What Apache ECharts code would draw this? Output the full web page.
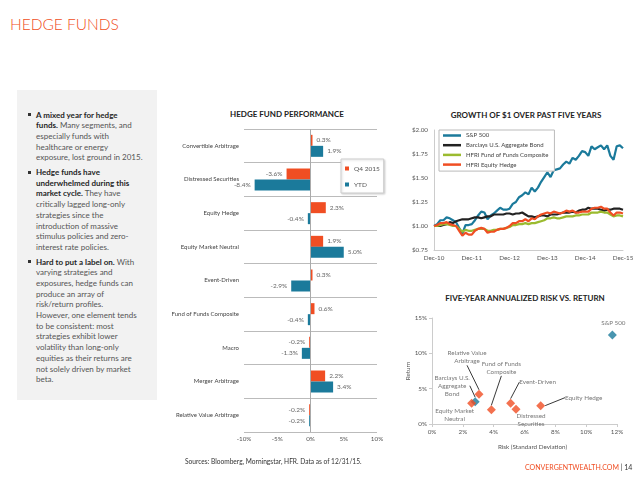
<!DOCTYPE html>
<html><head><meta charset="utf-8">
<script src="https://cdn.jsdelivr.net/npm/echarts@6/dist/echarts.min.js"></script>
<style>
html,body{margin:0;padding:0;background:#fff;width:640px;height:480px;overflow:hidden;font-family:Lato,'Open Sans',sans-serif;}
.abs{position:absolute;white-space:nowrap;}
#chart{position:absolute;left:0;top:0;width:640px;height:480px;}
#slideTitle{left:10px;top:15px;font-size:15.5px;font-weight:300;color:#F04E23;}
#panel{left:17px;top:90px;width:140px;height:310px;background:#F2F2F2;}
.bul{position:absolute;left:36px;font-size:8px;line-height:10.7px;color:#555;white-space:nowrap;}
.bul b{color:#262626;font-weight:700;}
.bul:before{content:"";position:absolute;left:-8px;top:3.8px;width:3px;height:3px;background:#333;}
.ctitle{position:absolute;width:220px;text-align:center;font-size:8px;font-weight:700;color:#222;white-space:nowrap;}
#src{left:185px;top:457px;font-size:6.6px;color:#333;}
#site{left:525px;top:463px;font-size:7px;color:#F04E23;}
#site span{color:#333;}
</style></head>
<body>
<div id="panel" class="abs"></div>
<div id="slideTitle" class="abs">HEDGE FUNDS</div>
<div class="bul" style="top:109.5px"><b>A mixed year for hedge<br>funds.</b> Many segments, and<br>especially funds with<br>healthcare or energy<br>exposure, lost ground in 2015.</div>
<div class="bul" style="top:167px"><b>Hedge funds have<br>underwhelmed during this<br>market cycle.</b> They have<br>critically lagged long-only<br>strategies since the<br>introduction of massive<br>stimulus policies and zero-<br>interest rate policies.</div>
<div class="bul" style="top:256.5px"><b>Hard to put a label on.</b> With<br>varying strategies and<br>exposures, hedge funds can<br>produce an array of<br>risk/return profiles.<br>However, one element tends<br>to be consistent: most<br>strategies exhibit lower<br>volatility than long-only<br>equities as their returns are<br>not solely driven by market<br>beta.</div>
<div class="ctitle" style="left:177px;top:109px">HEDGE FUND PERFORMANCE</div>
<div class="ctitle" style="left:416px;top:110px">GROWTH OF $1 OVER PAST FIVE YEARS</div>
<div class="ctitle" style="left:415px;top:293px">FIVE-YEAR ANNUALIZED RISK VS. RETURN</div>
<div id="chart"></div>
<div id="src" class="abs">Sources: Bloomberg, Morningstar, HFR. Data as of 12/31/15.</div>
<div id="site" class="abs">CONVERGENTWEALTH.COM <span>| 14</span></div>
<script>
// ---------- Bar chart data ----------
const barCategories = ['Convertible Arbitrage','Distressed Securities','Equity Hedge','Equity Market Neutral','Event-Driven','Fund of Funds Composite','Macro','Merger Arbitrage','Relative Value Arbitrage'];
const q4Values  = [0.3, -3.6, 2.3, 1.9, 0.3, 0.6, -0.2, 2.2, -0.2];
const ytdValues = [1.9, -8.4, -0.4, 5.0, -2.9, -0.4, -1.3, 3.4, -0.2];

// ---------- Growth of $1 data (monthly, Dec-10 .. Dec-15) ----------
const monthNames = ['Jan','Feb','Mar','Apr','May','Jun','Jul','Aug','Sep','Oct','Nov','Dec'];
const monthLabels = ['Dec-10'];
for (let y = 11; y <= 15; y++) for (let m = 0; m < 12; m++) monthLabels.push(monthNames[m] + '-' + y);
const sp500 = [1.00,
 1.02,1.06,1.06,1.09,1.08,1.06,1.04,0.98,0.92,1.01,1.01,1.02,
 1.06,1.11,1.15,1.14,1.07,1.11,1.13,1.16,1.19,1.17,1.17,1.18,
 1.23,1.25,1.30,1.32,1.35,1.33,1.40,1.36,1.40,1.46,1.51,1.56,
 1.51,1.58,1.59,1.60,1.64,1.67,1.65,1.71,1.69,1.73,1.78,1.77,
 1.73,1.83,1.80,1.82,1.84,1.80,1.84,1.73,1.69,1.83,1.84,1.81];
const aggBond = [1.00,
 1.00,1.00,1.01,1.02,1.04,1.03,1.05,1.06,1.07,1.07,1.07,1.08,
 1.09,1.09,1.08,1.09,1.10,1.10,1.12,1.12,1.12,1.12,1.13,1.13,
 1.12,1.13,1.13,1.14,1.12,1.10,1.10,1.09,1.10,1.11,1.11,1.10,
 1.12,1.12,1.12,1.13,1.14,1.14,1.14,1.15,1.14,1.16,1.17,1.17,
 1.19,1.18,1.18,1.18,1.17,1.16,1.17,1.17,1.18,1.18,1.18,1.17];
const fofComposite = [1.00,
 1.00,1.01,1.02,1.02,1.01,1.00,1.00,0.97,0.94,0.96,0.95,0.95,
 0.96,0.97,0.97,0.97,0.95,0.95,0.96,0.96,0.97,0.97,0.98,0.99,
 1.01,1.01,1.02,1.02,1.03,1.02,1.03,1.03,1.04,1.05,1.06,1.08,
 1.08,1.09,1.08,1.08,1.09,1.10,1.10,1.10,1.11,1.11,1.12,1.12,
 1.12,1.14,1.14,1.14,1.15,1.14,1.14,1.12,1.10,1.11,1.11,1.10];
const equityHedge = [1.00,
 1.01,1.03,1.03,1.04,1.02,1.01,1.00,0.95,0.90,0.93,0.91,0.91,
 0.95,0.97,0.98,0.97,0.93,0.94,0.94,0.96,0.97,0.97,0.98,1.00,
 1.03,1.03,1.05,1.05,1.07,1.05,1.08,1.07,1.10,1.12,1.13,1.14,
 1.13,1.15,1.14,1.13,1.14,1.16,1.15,1.16,1.14,1.14,1.15,1.15,
 1.15,1.18,1.19,1.19,1.20,1.18,1.18,1.14,1.11,1.14,1.14,1.13];
const lineNames = ['S&P 500','Barclays U.S. Aggregate Bond','HFRI Fund of Funds Composite','HFRI Equity Hedge'];

// ---------- Risk vs return data ----------
const riskNames  = ['S&P 500','Barclays U.S. Aggregate Bond','Relative Value Arbitrage','Fund of Funds Composite','Event-Driven','Equity Hedge','Equity Market Neutral','Distressed Securities'];
const riskLabels = ['S&P 500','Barclays U.S.\nAggregate\nBond','Relative Value\nArbitrage','Fund of Funds\nComposite','Event-Driven','Equity Hedge','Equity Market\nNeutral','Distressed\nSecurities'];
const riskValues   = [11.7, 2.8, 3.05, 3.85, 5.1, 7.05, 2.57, 5.45];
const returnValues = [12.6, 3.15, 4.2, 2.0, 2.95, 2.6, 2.93, 2.1];
const isBenchmark  = [true, true, false, false, false, false, false, false];

// ---------- styling (kept apart from data) ----------
const ORANGE = '#F04E23', TEAL = '#1B7A9B', GREEN = '#9BBB2F', BLACK = '#222222';
const labelDx = [1, -23, -12, 10, 27, 43, -17, 15];
const labelDy = [-12, -16, -37, -42, -21, -8, 12, 11];
const labelHasLine = [false, true, true, true, true, true, false, false];

const axisTxt = {fontSize: 6.3, color: '#555', fontFamily: 'Lato'};

const chart = echarts.init(document.getElementById('chart'), null, {renderer: 'canvas'});
const option = {
  animation: false,
  backgroundColor: 'transparent',
  textStyle: {fontFamily: 'Lato'},
  grid: [
    {left: 244, top: 129, width: 133, height: 303},
    {left: 434, top: 130, width: 189, height: 120},
    {left: 432, top: 318, width: 185, height: 106}
  ],
  legend: [
    {data: ['Q4 2015', 'YTD'], orient: 'vertical', left: 341, top: 159,
     itemWidth: 4, itemHeight: 4, itemGap: 9, padding: [6, 4, 5, 4], icon: 'rect',
     borderColor: '#ccc', borderWidth: 1, backgroundColor: '#fff',
     shadowBlur: 2, shadowColor: 'rgba(0,0,0,0.15)', shadowOffsetX: 1, shadowOffsetY: 1,
     textStyle: {fontSize: 6.5, color: '#555'}, selectedMode: false},
    {data: lineNames, orient: 'vertical', left: 439, top: 130, icon: 'rect',
     itemWidth: 18, itemHeight: 2.5, itemGap: 2.7, padding: [2, 6, 3, 4],
     borderColor: '#bbb', borderWidth: 1, backgroundColor: '#fff',
     textStyle: {fontSize: 6, color: '#444', lineHeight: 7}, selectedMode: false}
  ],
  xAxis: [
    {gridIndex: 0, type: 'value', min: -10, max: 10, interval: 5,
     axisLabel: Object.assign({formatter: '{value}%', margin: 4}, axisTxt),
     axisLine: {show: false}, axisTick: {show: false}, splitLine: {show: false}},
    {gridIndex: 1, type: 'category', data: monthLabels, boundaryGap: false,
     axisLine: {show: true, lineStyle: {color: '#ccc'}}, axisTick: {show: false},
     axisLabel: Object.assign({interval: 11, margin: 5}, axisTxt), splitLine: {show: false}},
    {gridIndex: 2, type: 'value', min: 0, max: 12, interval: 2,
     axisLabel: Object.assign({formatter: '{value}%', margin: 5}, axisTxt),
     axisLine: {show: true, lineStyle: {color: '#ccc'}},
     axisTick: {show: true, length: 3, lineStyle: {color: '#ccc'}}, splitLine: {show: false},
     name: 'Risk (Standard Deviation)', nameLocation: 'middle', nameGap: 20,
     nameTextStyle: {fontSize: 6.3, color: '#555', padding: [0, 0, 0, 16]}}
  ],
  yAxis: [
    {gridIndex: 0, type: 'category', data: barCategories, inverse: true,
     axisLine: {show: false}, axisTick: {show: false},
     axisLabel: {fontSize: 6, color: '#444', margin: 5},
     splitLine: {show: true, interval: (i) => i < barCategories.length, lineStyle: {color: '#bbb', width: 1}}},
    {gridIndex: 1, type: 'value', min: 0.75, max: 2, interval: 0.25,
     axisLabel: Object.assign({formatter: v => '$' + v.toFixed(2), margin: 6}, axisTxt),
     axisLine: {show: true, lineStyle: {color: '#ccc'}}, axisTick: {show: false}, splitLine: {show: false}},
    {gridIndex: 2, type: 'value', min: 0, max: 15, interval: 5,
     axisLabel: Object.assign({formatter: '{value}%', margin: 5}, axisTxt),
     axisLine: {show: true, lineStyle: {color: '#ccc'}},
     axisTick: {show: true, length: 3, lineStyle: {color: '#ccc'}}, splitLine: {show: false},
     name: 'Return', nameLocation: 'middle', nameGap: 16,
     nameTextStyle: {fontSize: 6.3, color: '#555'}}
  ],
  series: [
    {name: 'Q4 2015', type: 'bar', xAxisIndex: 0, yAxisIndex: 0, barWidth: 11, barGap: '0%',
     itemStyle: {color: ORANGE},
     data: q4Values.map(v => ({value: v, label: {position: v < 0 ? 'left' : 'right'}})),
     label: {show: true, formatter: p => p.value.toFixed(1) + '%', fontSize: 6.5, color: '#666', distance: 4},
     markLine: {silent: true, symbol: 'none', data: [{xAxis: 0}],
       lineStyle: {color: '#aaa', width: 1, type: 'solid'}, label: {show: false}}},
    {name: 'YTD', type: 'bar', xAxisIndex: 0, yAxisIndex: 0, barWidth: 11, barGap: '0%',
     itemStyle: {color: TEAL},
     data: ytdValues.map(v => ({value: v, label: {position: v < 0 ? 'left' : 'right'}})),
     label: {show: true, formatter: p => p.value.toFixed(1) + '%', fontSize: 6.5, color: '#666', distance: 4}},
    {name: lineNames[0], type: 'line', xAxisIndex: 1, yAxisIndex: 1, data: sp500, symbol: 'none',
     lineStyle: {color: TEAL, width: 2.2}, itemStyle: {color: TEAL}},
    {name: lineNames[1], type: 'line', xAxisIndex: 1, yAxisIndex: 1, data: aggBond, symbol: 'none',
     lineStyle: {color: BLACK, width: 2.2}, itemStyle: {color: BLACK}},
    {name: lineNames[2], type: 'line', xAxisIndex: 1, yAxisIndex: 1, data: fofComposite, symbol: 'none',
     lineStyle: {color: GREEN, width: 2.2}, itemStyle: {color: GREEN}},
    {name: lineNames[3], type: 'line', xAxisIndex: 1, yAxisIndex: 1, data: equityHedge, symbol: 'none',
     lineStyle: {color: ORANGE, width: 2.2}, itemStyle: {color: ORANGE}},
    {name: 'Risk/Return', type: 'scatter', xAxisIndex: 2, yAxisIndex: 2, symbol: 'diamond', symbolSize: 9,
     data: riskNames.map((n, i) => ({
       name: n, value: [riskValues[i], returnValues[i]],
       itemStyle: {color: isBenchmark[i] ? TEAL : ORANGE},
       label: {formatter: riskLabels[i]},
       labelLine: {show: labelHasLine[i]}
     })),
     label: {show: true, position: 'inside', fontSize: 6.3, color: '#555', align: 'center', lineHeight: 8},
     labelLine: {show: false, lineStyle: {color: '#222', width: 0.9}},
     labelLayout: p => ({dx: labelDx[p.dataIndex], dy: labelDy[p.dataIndex]})}
  ]
};
chart.setOption(option);
</script>
</body></html>
